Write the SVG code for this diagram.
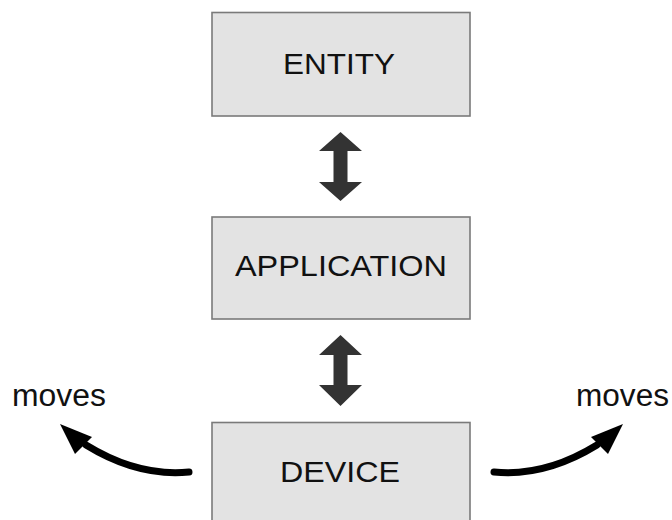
<svg xmlns="http://www.w3.org/2000/svg" width="672" height="520" viewBox="0 0 672 520">
  <style>
    .box { fill: #e3e3e3; stroke: #7a7a7a; stroke-width: 1.6; }
    .label { font-family: "Liberation Sans", Arial, sans-serif; font-size: 30px; fill: #111; text-anchor: middle; }
    .side { font-family: "Liberation Sans", Arial, sans-serif; font-size: 31px; fill: #111; }
    .dbl { fill: #333; }
    .curve { fill: none; stroke: #000; stroke-width: 7; stroke-linecap: round; }
    .head { fill: #000; }
  </style>
  <rect width="672" height="520" fill="#fff"/>

  <g id="entity">
    <rect class="box" x="212" y="12.5" width="258" height="103.5"/>
    <text class="label" x="339" y="74" textLength="112" lengthAdjust="spacingAndGlyphs">ENTITY</text>
  </g>

  <g id="application">
    <rect class="box" x="212" y="217" width="258" height="102"/>
    <text class="label" x="341" y="276" textLength="212" lengthAdjust="spacingAndGlyphs">APPLICATION</text>
  </g>

  <g id="device">
    <rect class="box" x="212" y="422.5" width="258" height="110"/>
    <text class="label" x="340" y="482" textLength="120" lengthAdjust="spacingAndGlyphs">DEVICE</text>
  </g>

  <g id="moves-left">
    <text class="side" x="12" y="406" textLength="94" lengthAdjust="spacingAndGlyphs">moves</text>
  </g>
  <g id="moves-right">
    <text class="side" x="576" y="406" textLength="93" lengthAdjust="spacingAndGlyphs">moves</text>
  </g>

  <g id="connectors">
    <!-- two-way arrows between the stacked layers -->
    <polygon class="dbl" points="340.5,132 362,151 347.5,151 347.5,182 362,182 340.5,201 319,182 333.5,182 333.5,151 319,151"/>
    <polygon class="dbl" points="340.5,335 362,355 347.5,355 347.5,385 362,385 340.5,406 319,385 333.5,385 333.5,355 319,355"/>
    <!-- curved movement arrows out of the device -->
    <path class="curve" d="M189,472 Q138,477 86,445"/>
    <polygon class="head" points="60,424 92,437 75,454"/>
    <path class="curve" d="M494,472 Q545,477 597,445"/>
    <polygon class="head" points="623,424 591,437 608,454"/>
  </g>
</svg>
